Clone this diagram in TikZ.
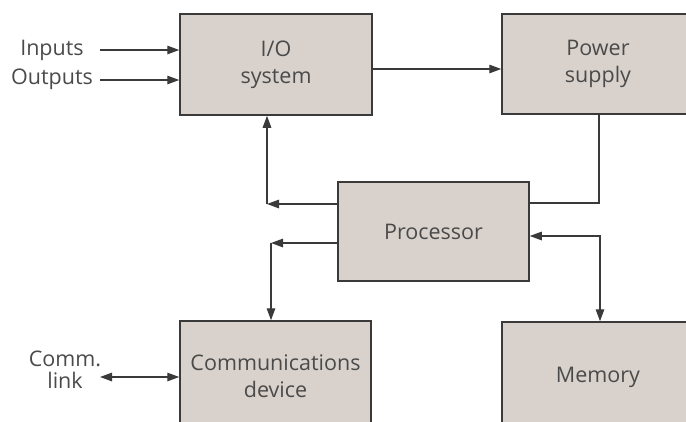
\documentclass[tikz,border=0pt]{standalone}
\usepackage{fontspec}
\setmainfont{Open Sans}
\usetikzlibrary{arrows.meta}
\definecolor{boxfill}{HTML}{D9D2CC}
\definecolor{ink}{HTML}{3A3A3A}
\definecolor{txt}{HTML}{4A4A4A}
\begin{document}
\begin{tikzpicture}[x=1pt,y=-1pt,
  box/.style={draw=ink, line width=1.5pt, fill=boxfill, inner sep=0pt,
    text=txt, font=\fontsize{21.5}{27}\selectfont, align=center},
  lbl/.style={text=txt, font=\fontsize{21.5}{22}\selectfont, inner sep=0pt, align=center},
  wire/.style={draw=ink, line width=1.3pt},
  tip/.style={-{Triangle[length=12pt,width=8.5pt]}},
  tips/.style={{Triangle[length=12pt,width=8.5pt]}-{Triangle[length=12pt,width=8.5pt]}},
]
\useasboundingbox (0,0) rectangle (686,421);
\clip (0,0) rectangle (686,421);

% blocks
\node[box, minimum width=192pt, minimum height=101pt] (io)   at (276,64.5)  {I/O\\system};
\node[box, minimum width=192pt, minimum height=100pt] (pow)  at (598,64)    {Power\\supply};
\node[box, minimum width=191pt, minimum height=99pt]  (proc) at (433.5,231.5) {Processor};
\node[box, minimum width=191pt, minimum height=110pt] (comm) at (275.5,376) {Communications\\device};
\node[box, minimum width=192pt, minimum height=110pt] (mem)  at (598,377)   {Memory};

% outside labels
\node[lbl] (inp)  at (52,50)  {Inputs};
\node[lbl] (outp) at (52,79)  {Outputs};
\node[lbl] (lnk)  at (65,370) {Comm.\\link};

% free ends and bends
\coordinate (inpend)  at (100,50);
\coordinate (outpend) at (100,80);
\coordinate (lnkend)  at (100,377);
\coordinate (bendio)  at (267,204);
\coordinate (bendcm)  at (271,243);
\coordinate (bendpw)  at (599,203);
\coordinate (bendmm)  at (600,236);

% connectors
\draw[wire,tip] (inpend)  -- (io.west |- inpend);
\draw[wire,tip] (outpend) -- (io.west |- outpend);
\draw[wire,tip] (io.east |- 0,69) -- (pow.west |- 0,69);
\draw[wire] (pow.south -| bendpw) -- (bendpw) -- (proc.east |- bendpw);
\draw[wire,tip] (proc.west |- bendio) -- (bendio);
\draw[wire,tip] (bendio) -- (io.south -| bendio);
\draw[wire,tip] (proc.west |- bendcm) -- (bendcm);
\draw[wire,tip] (bendcm) -- (comm.north -| bendcm);
\draw[wire,tips] (proc.east |- bendmm) -- (bendmm) -- (mem.north -| bendmm);
\draw[wire,tips] (lnkend) -- (comm.west |- lnkend);
\end{tikzpicture}
\end{document}
